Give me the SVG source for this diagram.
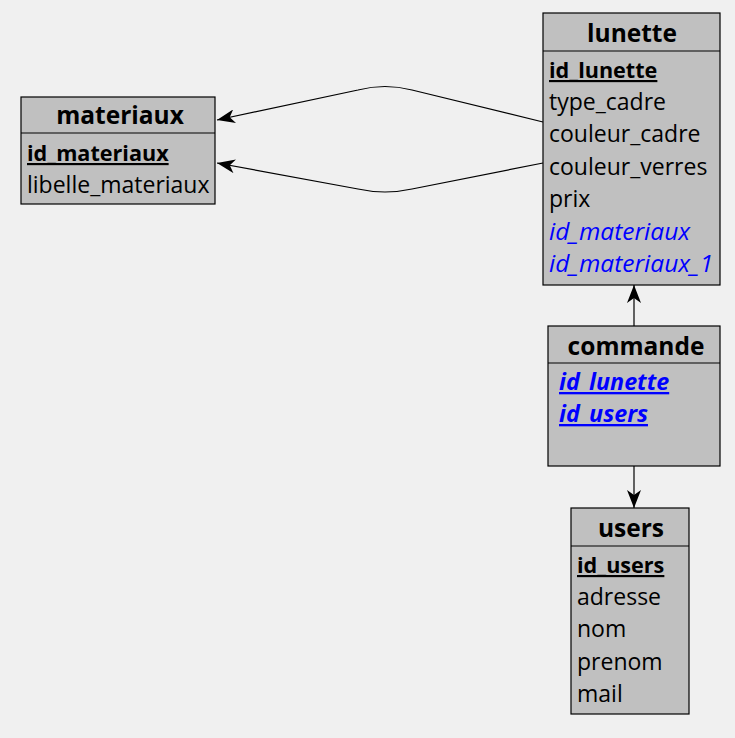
<svg xmlns="http://www.w3.org/2000/svg" width="735" height="738" viewBox="0 0 735 738">
<defs>
<marker id="arr" viewBox="0 0 18 14" refX="18" refY="7" markerWidth="18" markerHeight="14" markerUnits="userSpaceOnUse" orient="auto">
<path d="M0,0 L18,7 L0,14 L5,7 Z" fill="#000"/>
</marker>
<style>
.box{fill:#c0c0c0;stroke:#000;stroke-width:1.2}
.sep{stroke:#000;stroke-width:1.2}
.t{font-family:"Open Sans","Noto Sans","DejaVu Sans",sans-serif;font-size:24.5px;font-weight:bold;fill:#000;text-anchor:middle}
.f{font-family:"Open Sans","Noto Sans","DejaVu Sans",sans-serif;font-size:23px;fill:#000}
.pk{font-weight:bold;text-decoration:underline;font-size:21.6px}
.fk{fill:#0000ff;font-style:italic;font-size:24.5px}
.pfk{fill:#0000ff;font-style:italic;font-weight:bold;text-decoration:underline;font-size:23.3px}
.c{fill:none;stroke:#000;stroke-width:1.2}
</style>
</defs>
<rect width="735" height="738" fill="#f0f0f0"/>
<g id="connectors">
<path class="c" d="M543,122 L412,90 Q385,83 358,90 L217,120" marker-end="url(#arr)"/>
<path class="c" d="M543,163 L412,189 Q385,195 358,189 L217,163" marker-end="url(#arr)"/>
<path class="c" d="M634,326 L634,285" marker-end="url(#arr)"/>
<path class="c" d="M634,466 L634,508" marker-end="url(#arr)"/>
</g>
<g id="materiaux">
<rect class="box" x="21" y="97" width="194" height="107"/>
<line class="sep" x1="21" y1="133" x2="215" y2="133"/>
<text class="t" x="120" y="124">materiaux</text>
<text class="f pk" x="27" y="161">id_materiaux</text>
<text class="f" x="27" y="193">libelle_materiaux</text>
</g>
<g id="lunette">
<rect class="box" x="543" y="13" width="177" height="272"/>
<line class="sep" x1="543" y1="51" x2="720" y2="51"/>
<text class="t" x="632" y="42">lunette</text>
<text class="f pk" x="549" y="78">id_lunette</text>
<text class="f" x="549" y="110">type_cadre</text>
<text class="f" x="549" y="142">couleur_cadre</text>
<text class="f" x="549" y="175">couleur_verres</text>
<text class="f" x="549" y="207">prix</text>
<text class="f fk" x="549" y="240">id_materiaux</text>
<text class="f fk" x="549" y="272">id_materiaux_1</text>
</g>
<g id="commande">
<rect class="box" x="548" y="326" width="172" height="140"/>
<line class="sep" x1="548" y1="363" x2="720" y2="363"/>
<text class="t" x="636" y="355">commande</text>
<text class="f pfk" x="559" y="390">id_lunette</text>
<text class="f pfk" x="559" y="422">id_users</text>
</g>
<g id="users">
<rect class="box" x="571" y="508" width="118" height="206"/>
<line class="sep" x1="571" y1="546" x2="689" y2="546"/>
<text class="t" x="631" y="537">users</text>
<text class="f pk" x="577" y="573">id_users</text>
<text class="f" x="577" y="605">adresse</text>
<text class="f" x="577" y="637">nom</text>
<text class="f" x="577" y="670">prenom</text>
<text class="f" x="577" y="702">mail</text>
</g>
</svg>
